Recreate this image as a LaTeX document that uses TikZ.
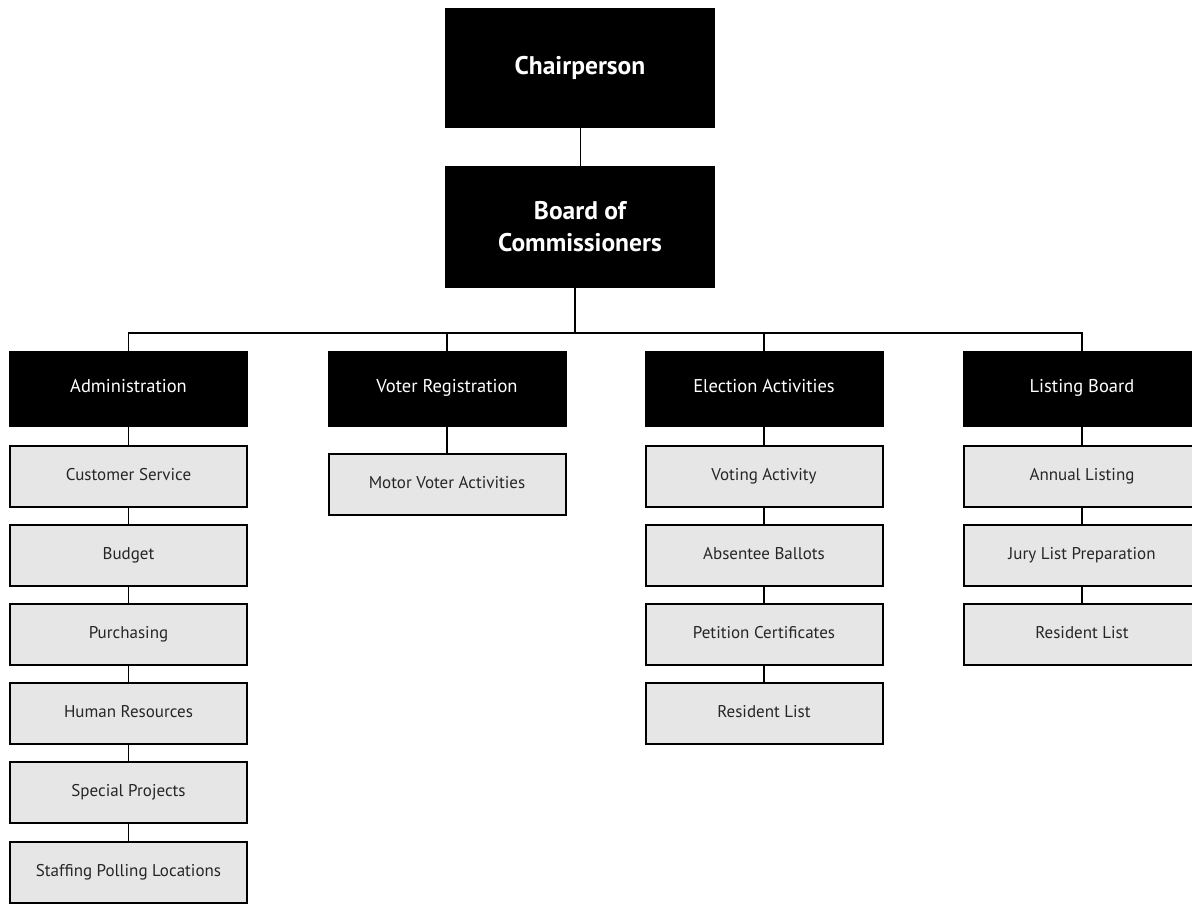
\documentclass[tikz,border=0pt]{standalone}
\usepackage{fontspec}
\setmainfont{PT Sans}
\usetikzlibrary{positioning}
\definecolor{subgray}{RGB}{230,230,230}

\begin{document}
\begin{tikzpicture}[x=1pt, y=-1pt,
    top/.style={fill=black, text=white, minimum width=270pt, inner sep=0pt, align=center,
        font=\bfseries\fontsize{25.5}{32}\selectfont},
    head/.style={fill=black, text=white, minimum width=239pt, minimum height=76pt, inner sep=0pt,
        text height=0.7em, text depth=0pt, font=\fontsize{18.5}{22}\selectfont},
    sub/.style={draw=black, line width=2pt, fill=subgray, text=black!85, minimum width=237pt,
        minimum height=61pt, inner sep=0pt, text height=0.7em, text depth=0pt,
        font=\fontsize{17}{20}\selectfont},
    link/.style={line width=1.6pt}]
    \useasboundingbox (0,0) rectangle (1192,904);

    \node[top, minimum height=120pt] (chair) at (580,68) {Chairperson};
    \node[top, minimum height=122pt] (board) at (580,227) {Board of\\Commissioners};

    \node[head] (admin) at (128.5,389) {Administration};
    \node[head] (voter) at (447,389) {Voter Registration};
    \node[head] (elect) at (764,389) {Election Activities};
    \node[head] (listing) at (1082,389) {Listing Board};

    \node[sub, below=18pt of admin] (cust) {Customer Service};
    \node[sub, below=16pt of cust] (budget) {Budget};
    \node[sub, below=16pt of budget] (purch) {Purchasing};
    \node[sub, below=16pt of purch] (human) {Human Resources};
    \node[sub, below=16pt of human] (special) {Special Projects};
    \node[sub, below=17pt of special] (staff) {Staffing Polling Locations};

    \node[sub, below=26pt of voter] (motor) {Motor Voter Activities};

    \node[sub, below=18pt of elect] (voting) {Voting Activity};
    \node[sub, below=16pt of voting] (absent) {Absentee Ballots};
    \node[sub, below=16pt of absent] (petition) {Petition Certificates};
    \node[sub, below=16pt of petition] (elres) {Resident List};

    \node[sub, below=18pt of listing] (annual) {Annual Listing};
    \node[sub, below=16pt of annual] (jury) {Jury List Preparation};
    \node[sub, below=16pt of jury] (lbres) {Resident List};

    \coordinate (bus) at (575,333);
    \draw[line width=1pt] (chair) -- (board);
    \draw[link] ([xshift=-5pt]board.south) -- (bus);
    \draw[link] (admin.north) |- (bus) -| (listing.north);
    \draw[link] (voter.north) -- (voter.north |- bus);
    \draw[link] (elect.north) -- (elect.north |- bus);

    \draw[link]
    (admin) edge (cust)
    (cust) edge (budget)
    (budget) edge (purch)
    (purch) edge (human)
    (human) edge (special)
    (special) edge (staff)
    (voter) edge (motor)
    (elect) edge (voting)
    (voting) edge (absent)
    (absent) edge (petition)
    (petition) edge (elres)
    (listing) edge (annual)
    (annual) edge (jury)
    (jury) edge (lbres);
\end{tikzpicture}
\end{document}
